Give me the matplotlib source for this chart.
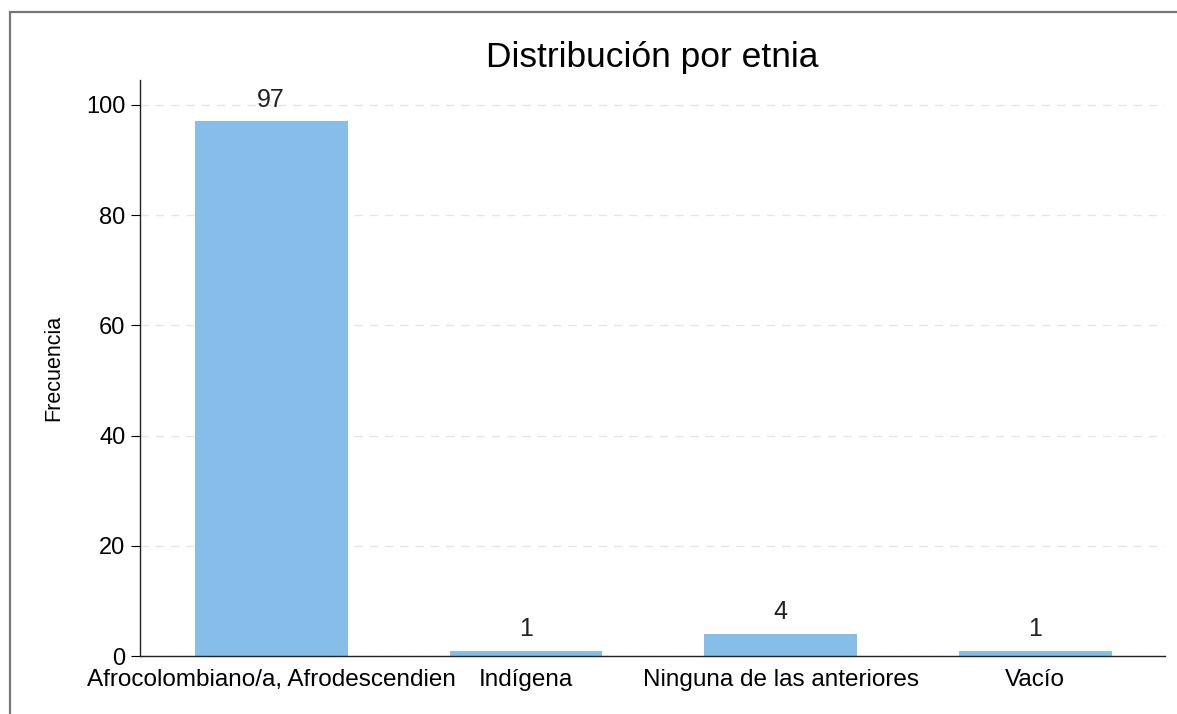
import matplotlib
matplotlib.use("Agg")
import matplotlib.pyplot as plt
from matplotlib.patches import Rectangle

categorias = ["Afrocolombiano/a, Afrodescendien", "Indígena", "Ninguna de las anteriores", "Vacío"]
frecuencia = [97, 1, 4, 1]
yticks = [0, 20, 40, 60, 80, 100]

plt.rcParams['font.family'] = ['Liberation Sans', 'DejaVu Sans']

fig = plt.figure(figsize=(11.77, 7.14), dpi=100)
ax = fig.add_axes([0.119, 0.081, 0.871, 0.807])

x = list(range(len(categorias)))
bars = ax.bar(x, frecuencia, width=0.6, color='#85BEE8', zorder=2)
for xi, v in zip(x, frecuencia):
    ax.annotate(str(v), (xi, v), xytext=(0, 7), textcoords='offset points',
                ha='center', va='bottom', fontsize=18, color='#222222')

ax.set_xlim(-0.515, 3.51)
ax.set_ylim(0, 104.5)
ax.set_yticks(yticks)
ax.set_xticks(x)
ax.set_xticklabels(categorias, fontsize=17.5)
ax.tick_params(axis='x', length=0, pad=9.5)
ax.tick_params(axis='y', labelsize=17, length=6.5, width=0.8, direction='out', pad=4)
ax.grid(axis='y', linestyle=(0, (6, 5)), color='#e6e6e6', linewidth=1, zorder=0)
ax.set_axisbelow(True)
for s in ['top', 'right']:
    ax.spines[s].set_visible(False)
for s in ['left', 'bottom']:
    ax.spines[s].set_linewidth(1)
    ax.spines[s].set_color('#222222')

ax.set_ylabel('Frecuencia', fontsize=15.5, labelpad=16)
ax.set_title('Distribución por etnia', fontsize=25.5, pad=9)

# marco gris exterior
fig.patches.append(Rectangle((10 / 1177, -0.2), 1.3, 1.2 - 12 / 714, transform=fig.transFigure,
                             fill=False, edgecolor='#777777', linewidth=1.6, clip_on=False))

fig.savefig('out.png', dpi=100)
